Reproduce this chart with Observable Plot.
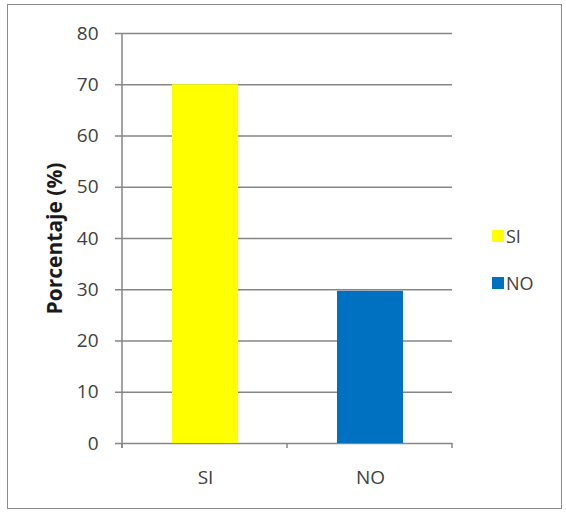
<!DOCTYPE html>
<html>
<head>
<meta charset="utf-8">
<script src="https://cdn.jsdelivr.net/npm/d3@7"></script>
<script src="https://cdn.jsdelivr.net/npm/@observablehq/plot@0.6"></script>
<style>
  html, body { margin: 0; padding: 0; background: #fff; }
  #wrap { position: relative; width: 566px; height: 514px; overflow: hidden; }
  #border { position: absolute; left: 7px; top: 4px; width: 555px; height: 505px; border: 1.5px solid #8c8c8c; box-sizing: border-box; }
  #chart { position: absolute; left: 0; top: 0; }
  #legend { position: absolute; left: 492px; top: 224px; font-family: "Open Sans", sans-serif; font-size: 18px; color: #404040; }
  .item { display: flex; align-items: center; height: 24px; margin-bottom: 23px; }
  .sw { width: 12px; height: 12px; margin-right: 2px; }
</style>
</head>
<body>
<div id="wrap">
  <div id="border"></div>
  <div id="chart"></div>
  <div id="legend"></div>
</div>
<script>
const categories = ["SI", "NO"];
const values = [70, 29.7];
const colors = ["#FFFF00", "#0070C0"];
const yTicks = [0, 10, 20, 30, 40, 50, 60, 70, 80];
const yLabel = "Porcentaje (%)";

const data = categories.map((c, i) => ({cat: c, value: values[i], color: colors[i]}));

// axis line + category boundary ticks (Excel style)
function axisDecor(index, scales, values, dims) {
  const ns = "http://www.w3.org/2000/svg";
  const g = document.createElementNS(ns, "g");
  const left = dims.marginLeft, right = dims.width - dims.marginRight;
  const top = dims.marginTop, bottom = dims.height - dims.marginBottom;
  const n = categories.length;
  const step = (right - left) / n;
  const mk = (x1, y1, x2, y2) => {
    const l = document.createElementNS(ns, "line");
    l.setAttribute("x1", x1); l.setAttribute("y1", y1);
    l.setAttribute("x2", x2); l.setAttribute("y2", y2);
    l.setAttribute("stroke", "#868686"); l.setAttribute("stroke-width", 1.5);
    g.appendChild(l);
  };
  mk(left, top, left, bottom + 5);
  for (let i = 0; i <= n; i++) mk(left + i * step, bottom, left + i * step, bottom + 5);
  return g;
}

const plot = Plot.plot({
  width: 566,
  height: 514,
  marginLeft: 122,
  marginRight: 114,
  marginTop: 33,
  marginBottom: 71,
  style: {fontFamily: "'Open Sans', sans-serif", fontSize: "19px", color: "#404040", background: "transparent"},
  x: {domain: categories, paddingInner: 0.6, paddingOuter: 0.3, label: null},
  y: {domain: [0, 80], label: null},
  marks: [
    Plot.ruleY(yTicks, {stroke: "#868686", strokeWidth: 1.5}),
    Plot.barY(data, {x: "cat", y: "value", fill: "color"}),
    Plot.axisY({ticks: yTicks, tickSize: 7, tickPadding: 17, stroke: "#868686", strokeWidth: 1.5, label: null, fill: "#404040"}),
    Plot.axisX({tickSize: 0, tickPadding: 27, label: null, fill: "#404040"}),
    Plot.text([yLabel], {frameAnchor: "left", rotate: -90, dx: -67, textAnchor: "middle", fontWeight: "bold", fontSize: 21, fill: "#1a1a1a", lineAnchor: "middle"}),
    axisDecor
  ]
});
document.getElementById("chart").appendChild(plot);

const legend = document.getElementById("legend");
categories.forEach((c, i) => {
  const it = document.createElement("div");
  it.className = "item";
  const sw = document.createElement("div");
  sw.className = "sw";
  sw.style.background = colors[i];
  const t = document.createElement("span");
  t.textContent = c;
  it.appendChild(sw); it.appendChild(t);
  legend.appendChild(it);
});
</script>
</body>
</html>
